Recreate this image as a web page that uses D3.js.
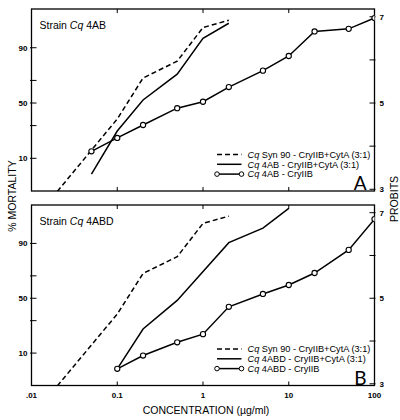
<!DOCTYPE html>
<html><head><meta charset="utf-8">
<script src="https://cdn.jsdelivr.net/npm/d3@7"></script>
<style>
body{margin:0;background:#fff;}
svg{font-family:"Liberation Sans",Arial,sans-serif;}
</style></head>
<body><svg id="c" width="400" height="420"></svg>
<script>
// ---- data ----
const xTickValues = [0.01, 0.1, 1, 10, 100];
const xTickLabels = [".01", "0.1", "1", "10", "100"];
const mortalityTickLabels = ["10", "", "50", "", "90"];
const mortalityTickProbits = [3.718, 4.476, 5.0, 5.524, 6.282];
const probitTicks = [3, 4, 5, 6, 7];
const probitTickLabels = ["3", "", "5", "", "7"];

// Cq Syn 90 - CryIIB+CytA (3:1)  (reference curve, both panels)
const synConc = [0.02, 0.1, 0.2, 0.5, 1, 2];
const synProbit = [2.95, 4.63, 5.58, 5.97, 6.75, 6.92];
// Panel A
const ab4MixConc = [0.05, 0.1, 0.2, 0.5, 1, 2];
const ab4MixProbit = [3.35, 4.35, 5.07, 5.67, 6.5, 6.85];
const ab4IIBConc = [0.05, 0.1, 0.2, 0.5, 1, 2, 5, 10, 20, 50, 100];
const ab4IIBProbit = [3.88, 4.19, 4.49, 4.88, 5.03, 5.37, 5.75, 6.09, 6.66, 6.72, 6.97];
// Panel B
const abd4MixConc = [0.1, 0.2, 0.5, 2, 5, 10];
const abd4MixProbit = [3.35, 4.28, 4.95, 6.3, 6.64, 7.1];
const abd4IIBConc = [0.1, 0.2, 0.5, 1, 2, 5, 10, 20, 50, 100];
const abd4IIBProbit = [3.35, 3.66, 3.97, 4.16, 4.8, 5.1, 5.31, 5.59, 6.13, 6.85];

const legendA = [["Syn 90 - CryIIB+CytA (3:1)", "dash"], ["4AB - CryIIB+CytA (3:1)", "solid"], ["4AB - CryIIB", "circle"]];
const legendB = [["Syn 90 - CryIIB+CytA (3:1)", "dash"], ["4ABD - CryIIB+CytA (3:1)", "solid"], ["4ABD - CryIIB", "circle"]];

// ---- drawing ----
const svg = d3.select("#c");
const left = 31.5, right = 374.5;
const x = d3.scaleLog().domain([0.01, 100]).range([left, right]);

const panels = [
  {top: 9, bottom: 191, name: "4AB", letter: "A", legend: legendA,
   series: [
     {c: synConc, p: synProbit, type: "dash"},
     {c: ab4MixConc, p: ab4MixProbit, type: "solid"},
     {c: ab4IIBConc, p: ab4IIBProbit, type: "circle"}]},
  {top: 205, bottom: 385.5, name: "4ABD", letter: "B", legend: legendB,
   series: [
     {c: synConc, p: synProbit, type: "dash"},
     {c: abd4MixConc, p: abd4MixProbit, type: "solid"},
     {c: abd4IIBConc, p: abd4IIBProbit, type: "circle"}]}
];

panels.forEach((P, i) => {
  const y = d3.scaleLinear().domain([2.96, 7.18]).range([P.bottom, P.top]);
  const g = svg.append("g");
  const clipId = "clip" + i;
  svg.append("clipPath").attr("id", clipId).append("rect")
    .attr("x", left).attr("y", P.top).attr("width", right - left).attr("height", P.bottom - P.top);

  // frame
  g.append("rect").attr("x", left).attr("y", P.top).attr("width", right - left).attr("height", P.bottom - P.top)
    .attr("fill", "none").attr("stroke", "#000").attr("stroke-width", 1.3);

  // x ticks (inward, top and bottom)
  [0.1, 1, 10].forEach(v => {
    g.append("line").attr("x1", x(v)).attr("x2", x(v)).attr("y1", P.bottom).attr("y2", P.bottom - 4)
      .attr("stroke", "#000").attr("stroke-width", 1);
    g.append("line").attr("x1", x(v)).attr("x2", x(v)).attr("y1", P.top).attr("y2", P.top + 4)
      .attr("stroke", "#000").attr("stroke-width", 1);
  });

  // left mortality axis
  mortalityTickProbits.forEach((p, k) => {
    g.append("line").attr("x1", left - 1.5).attr("x2", left + 5).attr("y1", y(p)).attr("y2", y(p))
      .attr("stroke", "#000").attr("stroke-width", 1);
    if (mortalityTickLabels[k]) g.append("text").attr("x", left - 4).attr("y", y(p) + 3)
      .attr("text-anchor", "end").attr("font-size", 8).attr("font-weight", "bold").text(mortalityTickLabels[k]);
  });
  // right probit axis
  probitTicks.forEach((p, k) => {
    g.append("line").attr("x1", right - 5).attr("x2", right + 1).attr("y1", y(p)).attr("y2", y(p))
      .attr("stroke", "#000").attr("stroke-width", 1);
    if (probitTickLabels[k]) g.append("text").attr("x", right + 5).attr("y", y(p) + 3)
      .attr("font-size", 8).attr("font-weight", "bold").text(probitTickLabels[k]);
  });

  // title
  const t = g.append("text").attr("x", left + 8).attr("y", P.top + 19.5).attr("font-size", 10.5);
  t.append("tspan").text("Strain ");
  t.append("tspan").attr("font-style", "italic").text("Cq");
  t.append("tspan").text(" " + P.name);

  // big letter
  g.append("text").attr("x", right - 8).attr("y", P.bottom - 1).attr("text-anchor", "end")
    .attr("font-family", "Lato, 'Liberation Sans', sans-serif")
    .attr("font-size", 19).attr("font-weight", 400).text(P.letter);

  // series
  const line = d3.line().x(d => x(d[0])).y(d => y(d[1]));
  const sg = g.append("g").attr("clip-path", `url(#${clipId})`);
  P.series.forEach(s => {
    const pts = s.c.map((c, k) => [c, s.p[k]]);
    sg.append("path").attr("d", line(pts)).attr("fill", "none").attr("stroke", "#000")
      .attr("stroke-width", 1.5).attr("stroke-dasharray", s.type === "dash" ? "5,3" : null);
    if (s.type === "circle") {
      sg.selectAll(null).data(pts).enter().append("circle")
        .attr("cx", d => x(d[0])).attr("cy", d => y(d[1])).attr("r", 2.6)
        .attr("fill", "#fff").attr("stroke", "#000").attr("stroke-width", 1.1);
    }
  });

  // legend
  const lx0 = 217, lx1 = 241.5, ly0 = P.bottom - 36.5, lstep = 9.8;
  P.legend.forEach((L, k) => {
    const yy = ly0 + k * lstep;
    g.append("line").attr("x1", lx0).attr("x2", lx1).attr("y1", yy).attr("y2", yy)
      .attr("stroke", "#000").attr("stroke-width", 1.5)
      .attr("stroke-dasharray", L[1] === "dash" ? "5,3" : null);
    if (L[1] === "circle") {
      [lx0, lx1].forEach(cx => g.append("circle").attr("cx", cx).attr("cy", yy).attr("r", 2.3)
        .attr("fill", "#fff").attr("stroke", "#000").attr("stroke-width", 1));
    }
    const tt = g.append("text").attr("x", lx1 + 6).attr("y", yy + 3.2).attr("font-size", 9.2);
    tt.append("tspan").attr("font-style", "italic").text("Cq");
    tt.append("tspan").text(" " + L[0]);
  });
});

// x tick labels (bottom panel only)
xTickValues.forEach((v, k) => {
  svg.append("text").attr("x", x(v)).attr("y", 398).attr("text-anchor", "middle")
    .attr("font-size", 8).attr("font-weight", "bold").text(xTickLabels[k]);
});

// axis titles
svg.append("text").attr("x", 206).attr("y", 414).attr("text-anchor", "middle").attr("font-size", 10.5)
  .text("CONCENTRATION (\u00b5g/ml)");
svg.append("text").attr("transform", "translate(16,196) rotate(-90)").attr("text-anchor", "middle")
  .attr("font-size", 10.5).text("% MORTALITY");
svg.append("text").attr("transform", "translate(397.5,199) rotate(-90)").attr("text-anchor", "middle")
  .attr("font-size", 10.5).text("PROBITS");
</script></body></html>
